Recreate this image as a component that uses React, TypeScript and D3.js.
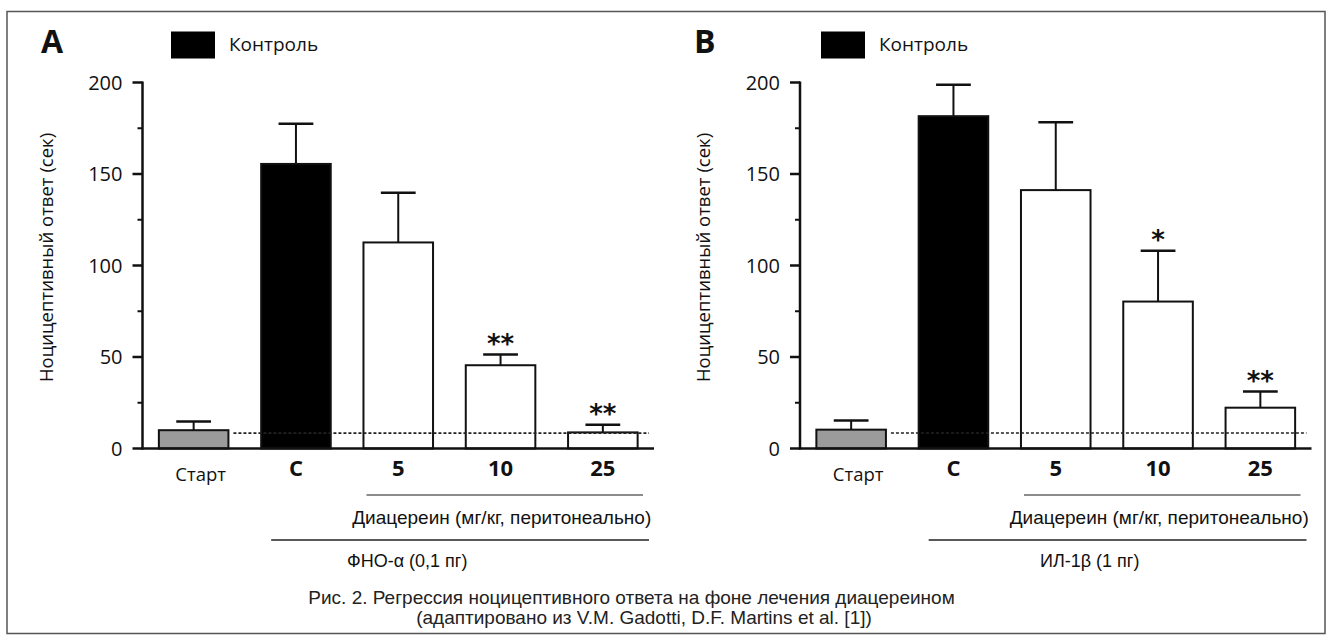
import React from "react";
import * as d3 from "d3";

// ---------- data ----------
const categories = ["Старт", "C", "5", "10", "25"];
const meansA = [10, 155.5, 112.6, 45.5, 8.8];
const semA = [4.8, 21.9, 27.2, 5.8, 4.2];
const sigA = ["", "", "", "**", "**"];
const meansB = [10.3, 181.6, 141.2, 80.3, 22.3];
const semB = [5.0, 17.2, 37.1, 27.7, 8.8];
const sigB = ["", "", "", "*", "**"];
const controlLevelA = 8.4;
const controlLevelB = 8.5;
const yTicks = [0, 50, 100, 150, 200];
const yMinorTicks = [25, 75, 125, 175];
const panelLetters = ["A", "B"];
const legendLabel = "Контроль";
const yLabel = "Ноцицептивный ответ (сек)";
const doseLabel = "Диацереин (мг/кг, перитонеально)";
const agentLabels = ["ФНО-α (0,1 пг)", "ИЛ-1β (1 пг)"];
const captionLines = [
  "Рис. 2. Регрессия ноцицептивного ответа на фоне лечения диацереином",
  "(адаптировано из V.M. Gadotti, D.F. Martins et al. [1])",
];

const MYRIAD = "'Open Sans', 'Noto Sans', sans-serif";
const ARIAL = "'Liberation Sans', Arial, sans-serif";

type PanelProps = {
  letter: string;
  means: number[];
  sem: number[];
  sig: string[];
  control: number;
  agent: string;
  axisX: number;
  agentX: number;
  letterX: number;
  legendX: number;
};

function Panel(p: PanelProps) {
  const y = d3.scaleLinear().domain([0, 200]).range([448.5, 82.5]);
  const x = d3
    .scaleBand<string>()
    .domain(categories)
    .range([p.axisX, p.axisX + 511.5])
    .paddingInner(0.32)
    .paddingOuter(0.16);
  const bw = x.bandwidth();
  const fillFor = (i: number) => (i === 0 ? "#9b9b9b" : i === 1 ? "#000" : "#fff");
  const r1 = p.axisX + 511.5;
  const line1Start = (x("5") as number) + 3;
  const line1End = r1 - 11;
  const line2Start = (x("C") as number) + 10;
  const line2End = r1 - 5;

  return (
    <g>
      {/* panel letter */}
      <text x={p.letterX} y={53} fontFamily={MYRIAD} fontWeight={700} fontSize={32} fill="#111">
        {p.letter}
      </text>
      {/* legend */}
      <rect x={p.legendX} y={31.5} width={44} height={27} fill="#000" />
      <text x={p.legendX + 58} y={51} fontFamily={MYRIAD} fontSize={19} fill="#111">
        {legendLabel}
      </text>
      {/* y label */}
      <text
        transform={`translate(${p.axisX - 90},${257.5}) rotate(-90)`}
        textAnchor="middle"
        fontFamily={MYRIAD}
        fontSize={18.5}
        fill="#111"
      >
        {yLabel}
      </text>
      {/* bars */}
      {categories.map((c, i) => {
        const x0 = x(c) as number;
        const top = y(p.means[i]);
        const errTop = y(p.means[i] + p.sem[i]);
        const cx = x0 + bw / 2;
        return (
          <g key={c}>
            <line x1={cx} x2={cx} y1={top} y2={errTop} stroke="#111" strokeWidth={2} />
            <line x1={cx - bw / 4} x2={cx + bw / 4} y1={errTop} y2={errTop} stroke="#111" strokeWidth={2.5} />
            <rect
              x={x0}
              y={top}
              width={bw}
              height={y(0) - top}
              fill={fillFor(i)}
              stroke="#111"
              strokeWidth={2}
            />
            {p.sig[i] && (
              <text
                x={cx}
                y={errTop - 2}
                textAnchor="middle"
                fontFamily="'DejaVu Sans', sans-serif"
                fontWeight={700}
                fontSize={26}
                fill="#111"
              >
                {p.sig[i]}
              </text>
            )}
          </g>
        );
      })}
      {/* control dotted line */}
      <line
        x1={(x("Старт") as number) + bw + 5}
        x2={r1 - 5}
        y1={y(p.control)}
        y2={y(p.control)}
        stroke="#222"
        strokeWidth={1.6}
        strokeDasharray="3,2"
      />
      {/* y axis */}
      <line x1={p.axisX} x2={p.axisX} y1={y(200) - 1} y2={y(0) + 1} stroke="#111" strokeWidth={2.5} />
      {yTicks.map((t) => (
        <g key={t}>
          <line x1={p.axisX - 10} x2={p.axisX} y1={y(t)} y2={y(t)} stroke="#111" strokeWidth={2.5} />
          <text
            x={p.axisX - 20}
            y={y(t)}
            dy="0.36em"
            textAnchor="end"
            fontFamily={MYRIAD}
            fontSize={20}
            fill="#111"
          >
            {t}
          </text>
        </g>
      ))}
      {yMinorTicks.map((t) => (
        <line key={t} x1={p.axisX - 5} x2={p.axisX} y1={y(t)} y2={y(t)} stroke="#111" strokeWidth={2} />
      ))}
      {/* x axis */}
      <line x1={p.axisX - 1} x2={r1} y1={y(0)} y2={y(0)} stroke="#111" strokeWidth={2.5} />
      {/* category labels */}
      {categories.map((c, i) => {
        const cx = (x(c) as number) + bw / 2;
        return i === 0 ? (
          <text key={c} x={cx + 7} y={481} textAnchor="middle" fontFamily={MYRIAD} fontSize={18.5} fill="#111">
            {c}
          </text>
        ) : (
          <text key={c} x={cx} y={476} textAnchor="middle" fontFamily={MYRIAD} fontWeight={700} fontSize={22} fill="#111">
            {c}
          </text>
        );
      })}
      {/* bracket lines */}
      <line x1={line1Start} x2={line1End} y1={495} y2={495} stroke="#666" strokeWidth={1.6} />
      <text
        x={(line1Start + line1End) / 2 - 3}
        y={524}
        textAnchor="middle"
        fontFamily={ARIAL}
        fontSize={19}
        fill="#111"
      >
        {doseLabel}
      </text>
      <line x1={line2Start} x2={line2End} y1={540} y2={540} stroke="#222" strokeWidth={1.5} />
      <text x={p.agentX} y={567} fontFamily={ARIAL} fontSize={18} fill="#111">
        {p.agent}
      </text>
    </g>
  );
}

export default function App() {
  return (
    <svg width={1332} height={642} style={{ display: "block", position: "absolute", left: 0, top: 0 }}>
      <rect x={0} y={0} width={1332} height={642} fill="#fff" />
      <rect x={7} y={11.5} width={1318} height={622} fill="none" stroke="#555" strokeWidth={1.5} />
      <Panel
        letter={panelLetters[0]}
        means={meansA}
        sem={semA}
        sig={sigA}
        control={controlLevelA}
        agent={agentLabels[0]}
        axisX={142.5}
        agentX={347}
        letterX={41}
        legendX={171}
      />
      <Panel
        letter={panelLetters[1]}
        means={meansB}
        sem={semB}
        sig={sigB}
        control={controlLevelB}
        agent={agentLabels[1]}
        axisX={800}
        agentX={1040}
        letterX={694}
        legendX={821}
      />
      {captionLines.map((t, i) => (
        <text
          key={i}
          x={i === 0 ? 631.5 : 644}
          y={604 + i * 20}
          textAnchor="middle"
          fontFamily={ARIAL}
          fontSize={19}
          fill="#222"
        >
          {t}
        </text>
      ))}
    </svg>
  );
}
